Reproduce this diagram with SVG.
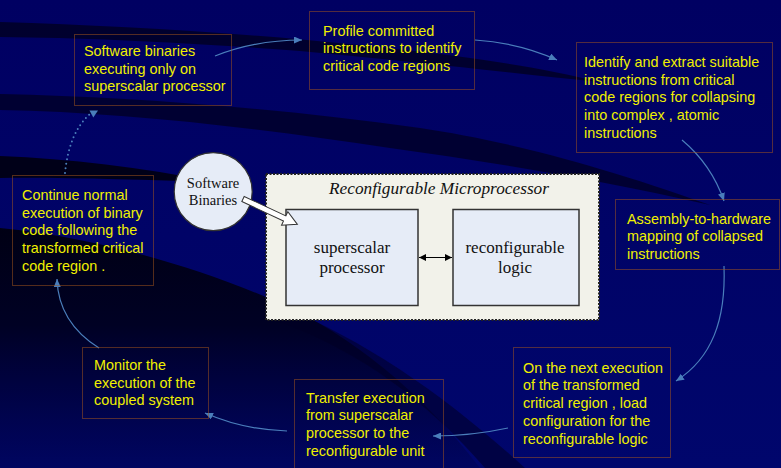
<svg xmlns="http://www.w3.org/2000/svg" width="781" height="468" viewBox="0 0 781 468">
  <defs>
    <linearGradient id="bg" x1="0" y1="0" x2="0" y2="1">
      <stop offset="0" stop-color="#000062"/>
      <stop offset="1" stop-color="#00066c"/>
    </linearGradient>
    <linearGradient id="shade" x1="0" y1="230" x2="0" y2="468" gradientUnits="userSpaceOnUse">
      <stop offset="0" stop-color="#000010" stop-opacity="0.95"/>
      <stop offset="0.4" stop-color="#000018" stop-opacity="0.85"/>
      <stop offset="1" stop-color="#000030" stop-opacity="0.2"/>
    </linearGradient>
    <marker id="ah" markerWidth="8" markerHeight="7" refX="8" refY="3.5" orient="auto" markerUnits="userSpaceOnUse">
      <path d="M0,0 L8,3.5 L0,7 Z" fill="#4a7ebb"/>
    </marker>
    <marker id="dbl" markerWidth="7" markerHeight="7" refX="7" refY="3.5" orient="auto-start-reverse" markerUnits="userSpaceOnUse">
      <path d="M0,0 L7,3.5 L0,7 Z" fill="#000"/>
    </marker>
    <style>
      .box { fill: none; stroke: #a8591b; stroke-width: 1; stroke-dasharray: 1 1; }
      .t { font-family: "Liberation Sans", Arial, sans-serif; font-size: 14.4px; fill: #f0f000; }
      .serif { font-family: "Liberation Serif", "Times New Roman", serif; fill: #111; text-anchor: middle; }
      .conn { fill: none; stroke: #4a7ebb; stroke-width: 1.2; marker-end: url(#ah); }
      .blk { fill: #e6ecf7; stroke: #333; stroke-width: 1.5; }
    </style>
  </defs>

  <!-- background with dark swooshes -->
  <rect width="781" height="468" fill="url(#bg)"/>
  <path d="M0,22 C150,27 300,36 470,58 C520,65 560,72 600,82 C520,74 420,62 300,51 C180,42 90,38 0,37 Z" fill="#000025" opacity="0.85"/>
  <path d="M0,94 C130,97 280,108 420,128 C500,140 590,162 710,205 C590,178 490,162 390,148 C260,128 120,112 0,110 Z" fill="#000025" opacity="0.8"/>
  <path d="M0,156 C70,159 140,167 215,182 C140,180 60,177 0,178 Z" fill="#00000f" opacity="0.9"/>
  <path d="M0,228 C100,238 200,268 280,303 C350,335 420,390 480,468 L0,468 Z" fill="url(#shade)"/>
  <path d="M280,306 C370,342 450,400 525,468 L485,468 C430,405 365,352 270,318 Z" fill="#000025" opacity="0.55"/>

  <!-- connectors -->
  <g id="connectors">
    <path class="conn" d="M215,56 C240,46 270,40 302,40"/>
    <path class="conn" d="M475,40 C505,42 535,50 557,60"/>
    <path class="conn" d="M682,140 C700,155 715,175 724,201"/>
    <path class="conn" d="M724,266 C726,320 712,358 676,381"/>
    <path class="conn" d="M508,428 C485,433 460,436 433,436"/>
    <path class="conn" d="M287,431 C255,430 230,424 205,413"/>
    <path class="conn" d="M99,348 C75,333 58,310 57,279"/>
    <path d="M65,173 C68,145 76,126 91,113" fill="none" stroke="#4a7ebb" stroke-width="2" stroke-linecap="round" stroke-dasharray="0 4.6"/>
    <polygon points="89.5,110.5 98,110.5 93.3,117.5" fill="#4a7ebb"/>
  </g>

  <!-- process steps -->
  <g id="step-binaries">
    <rect class="box" x="74.5" y="34.5" width="157" height="71"/>
    <text class="t" x="84"><tspan y="56">Software binaries</tspan><tspan x="84" y="73.7">executing only on</tspan><tspan x="84" y="91.4">superscalar processor</tspan></text>
  </g>
  <g id="step-profile">
    <rect class="box" x="309.5" y="11.5" width="165" height="78"/>
    <text class="t" x="323"><tspan y="35.7">Profile committed</tspan><tspan x="323" y="53.4">instructions to identify</tspan><tspan x="323" y="71.1">critical code regions</tspan></text>
  </g>
  <g id="step-extract">
    <rect class="box" x="576.5" y="42.5" width="196" height="110"/>
    <text class="t" x="584"><tspan y="67">Identify and extract suitable</tspan><tspan x="584" y="84.7">instructions from critical</tspan><tspan x="584" y="102.4">code regions for collapsing</tspan><tspan x="584" y="120.1">into complex , atomic</tspan><tspan x="584" y="137.8">instructions</tspan></text>
  </g>
  <g id="step-mapping">
    <rect class="box" x="615.5" y="199.5" width="164" height="70"/>
    <text class="t" x="627"><tspan y="223.7">Assembly-to-hardware</tspan><tspan x="627" y="241.4">mapping of collapsed</tspan><tspan x="627" y="259.1">instructions</tspan></text>
  </g>
  <g id="step-load">
    <rect class="box" x="513.5" y="347.5" width="157" height="110"/>
    <text class="t" x="523"><tspan y="372.7">On the next execution</tspan><tspan x="523" y="390.4">of the transformed</tspan><tspan x="523" y="408.1">critical region , load</tspan><tspan x="523" y="425.8">configuration for the</tspan><tspan x="523" y="443.5">reconfigurable logic</tspan></text>
  </g>
  <g id="step-transfer">
    <rect class="box" x="294.5" y="379.5" width="149" height="100"/>
    <text class="t" x="306"><tspan y="402.7">Transfer execution</tspan><tspan x="306" y="420.4">from superscalar</tspan><tspan x="306" y="438.1">processor to the</tspan><tspan x="306" y="455.8">reconfigurable unit</tspan></text>
  </g>
  <g id="step-monitor">
    <rect class="box" x="82.5" y="347.5" width="126" height="71"/>
    <text class="t" x="94"><tspan y="370">Monitor the</tspan><tspan x="94" y="387.7">execution of the</tspan><tspan x="94" y="405.4">coupled system</tspan></text>
  </g>
  <g id="step-continue">
    <rect class="box" x="12.5" y="175.5" width="141" height="110"/>
    <text class="t" x="22"><tspan y="200">Continue normal</tspan><tspan x="22" y="217.7">execution of binary</tspan><tspan x="22" y="235.4">code following the</tspan><tspan x="22" y="253.1">transformed critical</tspan><tspan x="22" y="270.8">code region .</tspan></text>
  </g>

  <!-- reconfigurable microprocessor block -->
  <g id="microprocessor">
    <rect x="266" y="174" width="333" height="146" fill="#f2f2ea" stroke="#222" stroke-width="2" stroke-dasharray="2 1.5"/>
    <text class="serif" x="439" y="194.3" font-size="17.3" font-style="italic">Reconfigurable Microprocessor</text>
  </g>
  <g id="superscalar">
    <rect class="blk" x="286" y="209.5" width="132" height="96"/>
    <text class="serif" font-size="17"><tspan x="352" y="252.7">superscalar</tspan><tspan x="352" y="272.7">processor</tspan></text>
  </g>
  <g id="reconfigurable-logic">
    <rect class="blk" x="453" y="209.5" width="126" height="96"/>
    <text class="serif" font-size="17"><tspan x="515" y="252.7">reconfigurable</tspan><tspan x="515" y="272.7">logic</tspan></text>
  </g>
  <g id="link">
    <line x1="419" y1="257.5" x2="452" y2="257.5" stroke="#000" stroke-width="1.2" marker-start="url(#dbl)" marker-end="url(#dbl)"/>
  </g>

  <!-- input binaries -->
  <g id="software-binaries">
    <circle cx="213.2" cy="191.7" r="39" fill="#e6ecf7" stroke="#333" stroke-width="1.2"/>
    <text class="serif" font-size="14.5"><tspan x="213" y="188">Software</tspan><tspan x="213" y="204.5">Binaries</tspan></text>
    <polygon points="0,-2.8 46,-2.8 46,-7.5 60,0 46,7.5 46,2.8 0,2.8" transform="translate(243,199) rotate(25)" fill="#fff" stroke="#333" stroke-width="1"/>
  </g>
</svg>
